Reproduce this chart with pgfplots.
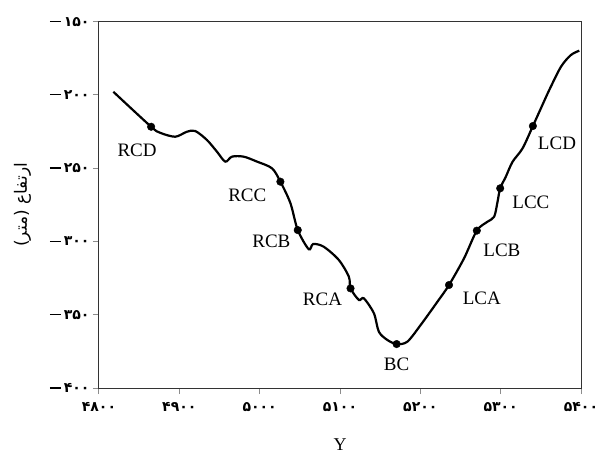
\documentclass[border=0pt]{standalone}
\usepackage{pgfplots}
\pgfplotsset{compat=1.18}
\usepackage{fontspec}
\setmainfont{Liberation Serif}
\newfontfamily\fa[Script=Arabic]{DejaVu Sans}
\newfontfamily\fad{DejaVu Sans}
\TeXXeTstate=1
\newcommand{\mn}{\rule[4pt]{11pt}{1.3pt}\hspace{3pt}}

\begin{document}
\begin{tikzpicture}
\begin{axis}[
  scale only axis,
  width=482pt, height=366.3pt,
  xmin=4800, xmax=5400,
  ymin=-400, ymax=-150,
  xtick={4800,4900,5000,5100,5200,5300,5400},
  xticklabels={۴۸۰۰,۴۹۰۰,۵۰۰۰,۵۱۰۰,۵۲۰۰,۵۳۰۰,۵۴۰۰},
  ytick={-400,-350,-300,-250,-200,-150},
  yticklabels={\mn۴۰۰,\mn۳۵۰,\mn۳۰۰,\mn۲۵۰,\mn۲۰۰,\mn۱۵۰},
  tick align=outside,
  xtick pos=left, ytick pos=left,
  major tick length=6pt,
  tick style={black!45, line width=1pt},
  axis line style={black!80, line width=1pt},
  ticklabel style={font=\fad\bfseries\fontsize{14}{14}\selectfont},
  xticklabel style={yshift=-5pt},
  xlabel={Y},
  xlabel style={font=\fontsize{18}{18}\selectfont, yshift=-20pt},
  ylabel={\fa\beginR ارتفاع (متر)\endR},
  ylabel style={font=\fontsize{17}{17}\selectfont, yshift=12pt},
]
% profile
\addplot[black, line width=2.2pt, smooth, tension=0.5, no marks] coordinates {
  (4817.8,-197.8) (4864.9,-221.7) (4876.1,-225.8) (4894.8,-228.5)
  (4909.4,-225.1) (4919.8,-224.6) (4934.3,-230.7) (4946.8,-238.7)
  (4957.2,-245.5) (4965.5,-242.1) (4980.0,-242.1) (4996.7,-245.5)
  (5015.4,-250.1) (5025.8,-259.2) (5038.3,-273.9) (5047.4,-292.2)
  (5061.1,-305.3) (5066.6,-301.7) (5079.8,-303.6) (5098.5,-312.6)
  (5111.0,-324.0) (5113.1,-332.0) (5123.5,-339.9) (5129.7,-338.8)
  (5142.2,-349.0) (5148.4,-361.6) (5158.9,-367.2) (5170.5,-370.0)
  (5183.8,-368.4) (5200.4,-357.0) (5221.3,-341.1) (5235.7,-329.7)
  (5254.4,-311.5) (5270.3,-292.6) (5283.6,-286.5) (5291.9,-283.1)
  (5296.1,-272.9) (5299.4,-263.7) (5306.4,-255.8) (5314.8,-245.6)
  (5327.3,-236.4) (5340.1,-221.2) (5350.1,-209.1) (5360.5,-196.6)
  (5375.1,-180.7) (5387.5,-172.7) (5397.9,-169.8)
};
% stations
\addplot[only marks, mark=*, mark size=3.8pt, black] coordinates {
  (4864.9,-221.7) (5025.8,-259.2) (5047.4,-292.2) (5113.1,-332.0)
  (5170.5,-370.0) (5235.7,-329.7) (5270.3,-292.6) (5299.4,-263.7)
  (5340.1,-221.2)
};
\begin{scope}[every node/.style={font=\fontsize{19}{19}\selectfont}]
\node at (axis cs:4847.4,-237.6) {RCD};
\node at (axis cs:4984.6,-268.4) {RCC};
\node at (axis cs:5014.6,-299.7) {RCB};
\node at (axis cs:5078.2,-339.3) {RCA};
\node at (axis cs:5170.5,-383.6) {BC};
\node at (axis cs:5276.5,-338.6) {LCA};
\node at (axis cs:5301.5,-305.9) {LCB};
\node at (axis cs:5337.6,-273.1) {LCC};
\node at (axis cs:5370.1,-232.8) {LCD};
\end{scope}
\end{axis}
\pgfresetboundingbox
\path[use as bounding box] (current axis.south west) ++(-99pt,-72pt) rectangle ([xshift=20pt,yshift=21.7pt]current axis.north east);
\end{tikzpicture}
\end{document}
